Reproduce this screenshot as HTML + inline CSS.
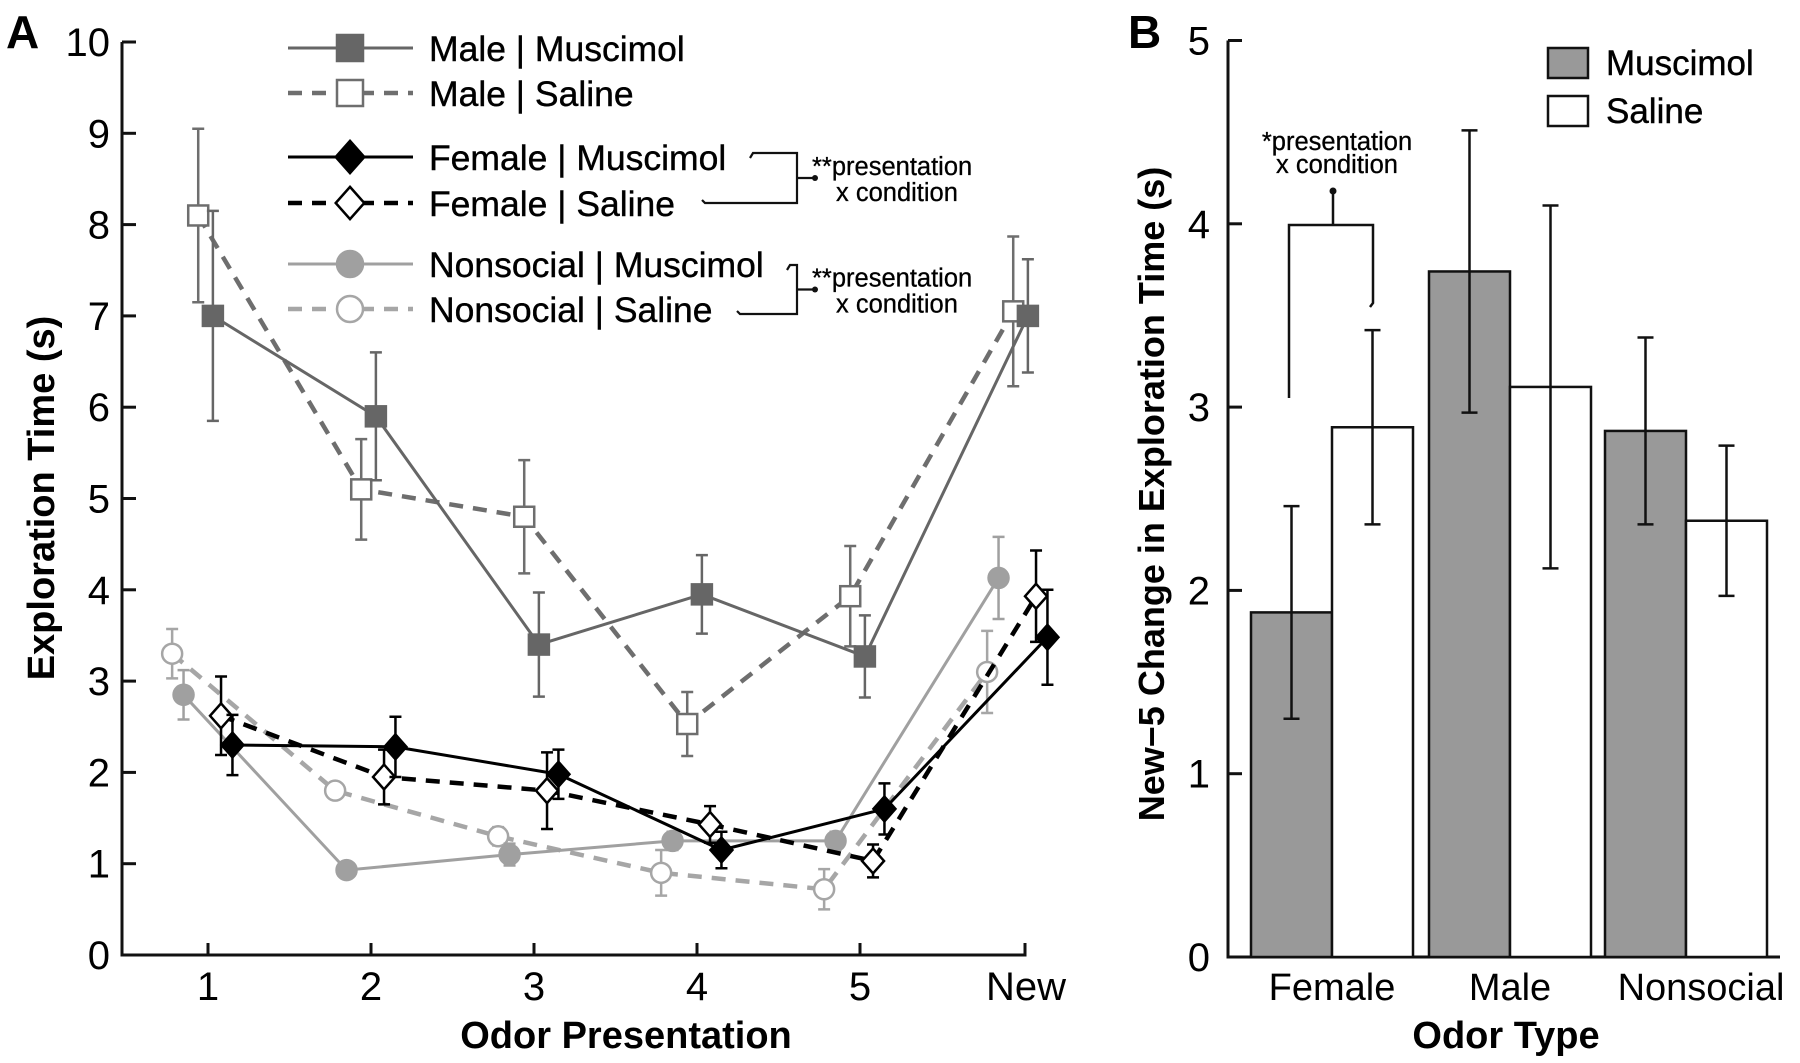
<!DOCTYPE html>
<html><head><meta charset="utf-8"><style>
html,body{margin:0;padding:0;background:#fff;}
svg{display:block;font-family:"Liberation Sans",Arial,sans-serif;}
</style></head><body>
<svg id="chart" width="1800" height="1063" viewBox="0 0 1800 1063" xmlns="http://www.w3.org/2000/svg">
<g id="pa"></g>
<g id="pb"></g>
</svg>
<script>
// ---- Panel A data ----
const presentations = ["1","2","3","4","5","New"];
const yTicksA = [0,1,2,3,4,5,6,7,8,9,10];
const maleMusc = [7.0,5.9,3.4,3.95,3.27,7.0];
const maleMuscErr = [1.15,0.7,0.57,0.43,0.45,0.62];
const maleSal = [8.1,5.1,4.8,2.53,3.93,7.05];
const maleSalErr = [0.95,0.55,0.62,0.35,0.55,0.82];
const femMusc = [2.3,2.28,1.98,1.15,1.6,3.48];
const femMuscErr = [0.33,0.33,0.27,0.2,0.28,0.52];
const femSal = [2.62,1.95,1.8,1.43,1.03,3.93];
const femSalErr = [0.43,0.3,0.42,0.2,0.18,0.5];
const nonMusc = [2.85,0.93,1.1,1.25,1.25,4.13];
const nonMuscErr = [0.27,0.05,0.12,0.1,0.1,0.45];
const nonSal = [3.3,1.8,1.3,0.9,0.72,3.1];
const nonSalErr = [0.27,0.05,0.1,0.25,0.22,0.45];
// ---- Panel B data ----
const odorTypes = ["Female","Male","Nonsocial"];
const yTicksB = [0,1,2,3,4,5];
const muscB = [1.88,3.74,2.87];
const muscBErr = [0.58,0.77,0.51];
const salB = [2.89,3.11,2.38];
const salBErr = [0.53,0.99,0.41];

const NS="http://www.w3.org/2000/svg";
function mk(parent,tag,attrs,txt){const e=document.createElementNS(NS,tag);for(const k in attrs)e.setAttribute(k,attrs[k]);if(txt!==undefined)e.textContent=txt;parent.appendChild(e);return e;}

// ---- Panel A ----
const pa=document.getElementById('pa');
const ax0=122, ay0=955, ay10=42;
const yA=v=>ay0-(ay0-ay10)*v/10;
const xA=i=>208+i*163;
let t=mk(pa,'text',{x:6,y:48,'font-size':46,'font-weight':'bold'},'A');


let ax=mk(pa,'path',{d:`M${ax0},${ay10} V${ay0} H1025 V${ay0-12}`,stroke:'#111','stroke-width':3,fill:'none'});


yTicksA.forEach(v=>{
  mk(pa,'line',{x1:ax0,x2:ax0+14,y1:yA(v),y2:yA(v),stroke:'#111','stroke-width':3});
  const l=mk(pa,'text',{x:110,y:yA(v)+14,'font-size':40,'text-anchor':'end'},String(v));
  
  
});
presentations.forEach((p,i)=>{
  if(i<5) mk(pa,'line',{x1:xA(i),x2:xA(i),y1:ay0,y2:ay0-12,stroke:'#111','stroke-width':3});
  const l=mk(pa,'text',{x:xA(i)+(i==5?3:0),y:1000,'font-size':40,'text-anchor':'middle'},p);
  
  
});
t=mk(pa,'text',{x:626,y:1048,'font-size':38,'font-weight':'bold','text-anchor':'middle'},'Odor Presentation');


t=mk(pa,'text',{x:0,y:0,'font-size':38,'font-weight':'bold','text-anchor':'middle',transform:'translate(54,498) rotate(-90)'},'Exploration Time (s)');



function marker(g,shape,cx,cy,s,color,filled){
  const fill=filled?color:'#fff', sw=filled?0:2.5;
  let m;
  if(shape==='sq') m=mk(g,'rect',{x:cx-s/2,y:cy-s/2,width:s,height:s,fill:fill,stroke:color,'stroke-width':sw||2.5});
  else if(shape==='di') m=mk(g,'path',{d:`M${cx},${cy-s*0.62} L${cx+s*0.55},${cy} L${cx},${cy+s*0.62} L${cx-s*0.55},${cy} Z`,fill:fill,stroke:color,'stroke-width':2.5});
  else m=mk(g,'circle',{cx:cx,cy:cy,r:s/2,fill:fill,stroke:color,'stroke-width':sw||2.5});
  return m;
}
const series=[
 {name:'nonsocial-saline',vals:nonSal,err:nonSalErr,off:-0.22,color:'#a6a6a6',dash:'14,10',shape:'ci',filled:false},
 {name:'nonsocial-muscimol',vals:nonMusc,err:nonMuscErr,off:-0.15,color:'#a0a0a0',dash:null,shape:'ci',filled:true},
 {name:'male-saline',vals:maleSal,err:maleSalErr,off:-0.06,color:'#6e6e6e',dash:'14,10',shape:'sq',filled:false},
 {name:'male-muscimol',vals:maleMusc,err:maleMuscErr,off:0.03,color:'#666',dash:null,shape:'sq',filled:true},
 {name:'female-saline',vals:femSal,err:femSalErr,off:0.08,color:'#000',dash:'14,10',shape:'di',filled:false},
 {name:'female-muscimol',vals:femMusc,err:femMuscErr,off:0.15,color:'#000',dash:null,shape:'di',filled:true}
];
series.forEach(s=>{
  const g=mk(pa,'g',{});
  
  
  const xs=s.vals.map((v,i)=>xA(i+s.off));
  const pts=s.vals.map((v,i)=>xs[i]+','+yA(v)).join(' ');
  const ln=mk(g,'polyline',{points:pts,fill:'none',stroke:s.color,'stroke-width':s.dash?4.5:3,'stroke-dasharray':s.dash||'none'});
  
  
  s.vals.forEach((v,i)=>{
    const e=mk(g,'path',{d:`M${xs[i]-6},${yA(v+s.err[i])} H${xs[i]+6} M${xs[i]},${yA(v+s.err[i])} V${yA(v-s.err[i])} M${xs[i]-6},${yA(v-s.err[i])} H${xs[i]+6}`,stroke:s.color,'stroke-width':2.5,fill:'none'});
    
    
  });
  s.vals.forEach((v,i)=>{
    const m=marker(g,s.shape,xs[i],yA(v),20,s.color,s.filled);
    
    
  });
});
// legend A
const legA=[
 ['Male | Muscimol','#666',null,'sq',true,48],
 ['Male | Saline','#6e6e6e','14,10','sq',false,93],
 ['Female | Muscimol','#000',null,'di',true,157],
 ['Female | Saline','#000','14,10','di',false,203],
 ['Nonsocial | Muscimol','#a0a0a0',null,'ci',true,264],
 ['Nonsocial | Saline','#a6a6a6','14,10','ci',false,309]
];
const lg=mk(pa,'g',{});


legA.forEach(r=>{
  const e=mk(lg,'g',{});
  
  
  mk(e,'line',{x1:288,x2:413,y1:r[5],y2:r[5],stroke:r[1],'stroke-width':r[2]?4.5:3,'stroke-dasharray':r[2]||'none'});
  marker(e,r[3],350,r[5],26,r[1],r[4]);
  mk(e,'text',{x:429,y:r[5]+13,'font-size':35.5,stroke:'#000','stroke-width':0.4},r[0]);
});
// significance brackets A
function bracketA(yTop,xTop,yBot,xBot,label){
  const g=mk(pa,'g',{});
  
  
  const ym=(yTop+yBot)/2;
  mk(g,'path',{d:`M${xTop},${yTop+5} L${xTop+3},${yTop} H797 V${yBot} H${xBot+3} L${xBot},${yBot-3} M797,${ym} H815`,stroke:'#111','stroke-width':2.2,fill:'none'});
  mk(g,'circle',{cx:815,cy:ym,r:3,fill:'#111'});
  mk(g,'text',{x:812,y:ym-3,'font-size':25.5,stroke:'#000','stroke-width':0.3},label);
  mk(g,'text',{x:836,y:ym+23,'font-size':25.5,stroke:'#000','stroke-width':0.3},'x condition');
}
bracketA(153,750,203,702,'**presentation');
bracketA(265,787,314,737,'**presentation');

// ---- Panel B ----
const pb=document.getElementById('pb');
const bx0=1228, by0=957, byUnit=183.3;
const yB=v=>by0-v*byUnit;
const gc=[1332,1510,1686], bw=81;
t=mk(pb,'text',{x:1128,y:48,'font-size':46,'font-weight':'bold'},'B');


ax=mk(pb,'path',{d:`M${bx0},${yB(5)} V${by0} H1780`,stroke:'#111','stroke-width':3,fill:'none'});


yTicksB.forEach(v=>{
  mk(pb,'line',{x1:bx0,x2:bx0+14,y1:yB(v),y2:yB(v),stroke:'#111','stroke-width':3});
  const l=mk(pb,'text',{x:1210,y:yB(v)+14,'font-size':40,'text-anchor':'end'},String(v));
  
  
});
odorTypes.forEach((o,i)=>{
  const l=mk(pb,'text',{x:gc[i]+(i==2?15:0),y:1000,'font-size':38,'text-anchor':'middle'},o);
  
  
  [[muscB,muscBErr,'#999',-1,'muscimol'],[salB,salBErr,'#fff',0,'saline']].forEach(b=>{
    const x=gc[i]+b[3]*bw, v=b[0][i], er=b[1][i];
    const r=mk(pb,'rect',{x:x,y:yB(v),width:bw,height:by0-yB(v),fill:b[2],stroke:'#111','stroke-width':2.5});
    
    
    const cx=x+bw/2;
    const e=mk(pb,'path',{d:`M${cx-8},${yB(v+er)} H${cx+8} M${cx},${yB(v+er)} V${yB(v-er)} M${cx-8},${yB(v-er)} H${cx+8}`,stroke:'#111','stroke-width':2.5,fill:'none'});
    
    
  });
});
t=mk(pb,'text',{x:1506,y:1048,'font-size':38,'font-weight':'bold','text-anchor':'middle'},'Odor Type');


t=mk(pb,'text',{x:0,y:0,'font-size':36,'font-weight':'bold','text-anchor':'middle',transform:'translate(1164,494) rotate(-90)'},'New−5 Change in Exploration Time (s)');


// legend B
const lgb=mk(pb,'g',{});


[['Muscimol','#999',48],['Saline','#fff',96]].forEach(r=>{
  const e=mk(lgb,'g',{});
  
  
  mk(e,'rect',{x:1548,y:r[2],width:40,height:30,fill:r[1],stroke:'#111','stroke-width':2.5});
  mk(e,'text',{x:1606,y:r[2]+27,'font-size':35,stroke:'#000','stroke-width':0.4},r[0]);
});
// bracket B
const bb=mk(pb,'g',{});


mk(bb,'path',{d:`M1289,398 V225 H1373 V303 L1370,307 M1333,225 V191`,stroke:'#111','stroke-width':2.5,fill:'none'});
mk(bb,'circle',{cx:1333,cy:191,r:3.5,fill:'#111'});
mk(bb,'text',{x:1337,y:150,'font-size':25.5,'text-anchor':'middle',stroke:'#000','stroke-width':0.3},'*presentation');
mk(bb,'text',{x:1337,y:173,'font-size':25.5,'text-anchor':'middle',stroke:'#000','stroke-width':0.3},'x condition');
</script>
</body></html>
